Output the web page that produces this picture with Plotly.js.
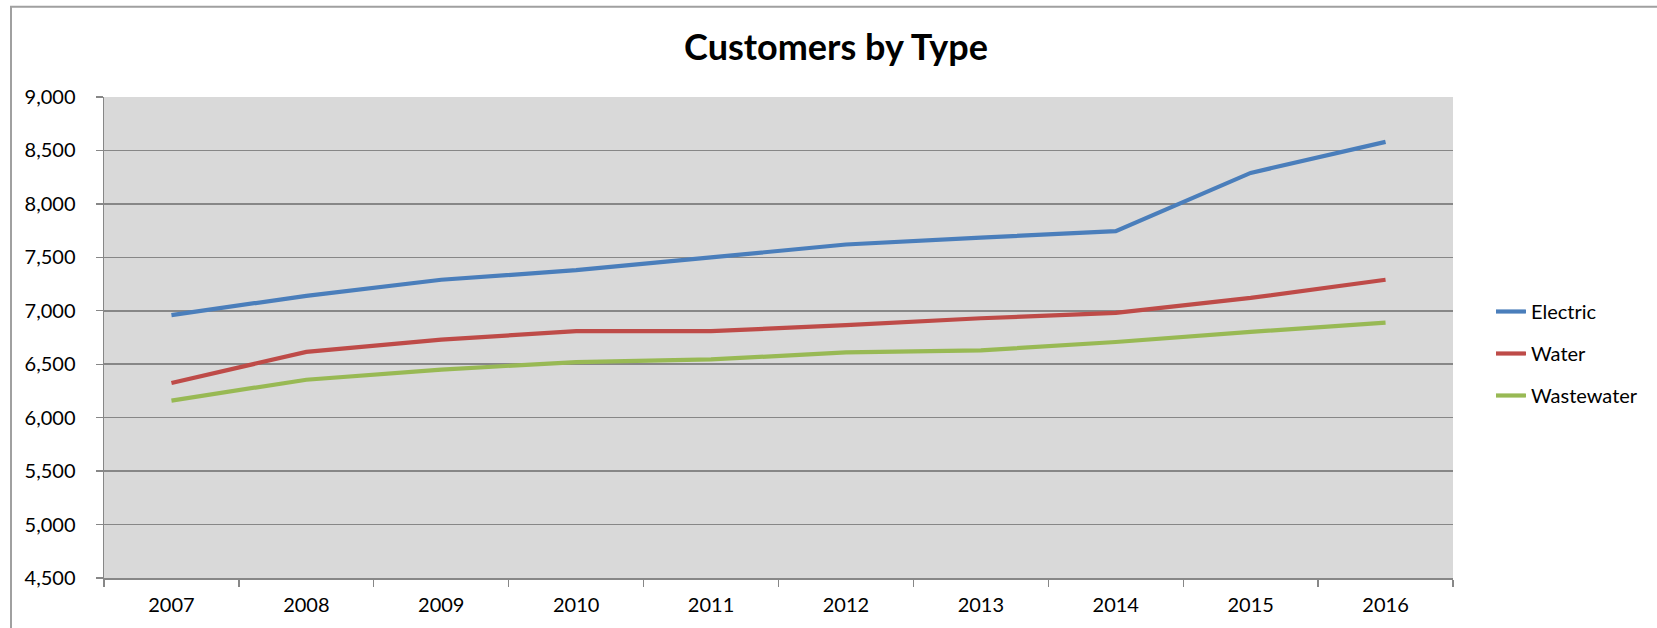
<!DOCTYPE html>
<html>
<head>
<meta charset="utf-8">
<script src="https://cdn.plot.ly/plotly-3.0.1.min.js"></script>
<style>
html,body{margin:0;padding:0;background:#fff;}
#chart{width:1657px;height:628px;}
</style>
</head>
<body>
<div id="chart"></div>
<script>
const years = ["2007","2008","2009","2010","2011","2012","2013","2014","2015","2016"];
const electric = [6960, 7140, 7290, 7380, 7500, 7620, 7685, 7745, 8290, 8580];
const water = [6325, 6615, 6730, 6810, 6810, 6865, 6930, 6980, 7120, 7290];
const wastewater = [6160, 6355, 6450, 6520, 6545, 6610, 6630, 6708, 6802, 6890];
const seriesNames = ["Electric", "Water", "Wastewater"];
const seriesColors = ["#4A7EBB", "#BE4B48", "#98B954"];
const yTicks = [4500, 5000, 5500, 6000, 6500, 7000, 7500, 8000, 8500, 9000];

const W = 1657, H = 628;
const mL = 104, mR = 204, mT = 97, mB = 50;
const pw = W - mL - mR, ph = H - mT - mB;
const px = v => (v - mL) / pw;
const py = v => (H - mB - v) / ph;

const FONT = "Lato, 'Open Sans', sans-serif";
const seriesValues = [electric, water, wastewater];
const traces = seriesValues.map((vals, i) => ({
  type: "scatter",
  mode: "lines",
  x: years,
  y: vals,
  name: seriesNames[i],
  legendgroup: "g" + i,
  line: {color: seriesColors[i], width: 4.2, shape: "linear"},
  hoverinfo: "x+y+name"
}));

const layout = {
  width: W, height: H,
  margin: {l: mL, r: mR, t: mT, b: mB, pad: 0},
  paper_bgcolor: "#ffffff",
  plot_bgcolor: "#D9D9D9",
  font: {family: FONT, size: 20, color: "#000000"},
  title: {
    text: "<b>Customers by Type</b>",
    font: {family: FONT, size: 36, color: "#000000"},
    x: 836 / W, xanchor: "center", xref: "container",
    y: 1 - 47 / H, yanchor: "middle", yref: "container"
  },
  showlegend: true,
  legend: {
    x: px(1491), xanchor: "left",
    y: py(292), yanchor: "top",
    traceorder: "grouped",
    tracegroupgap: 13,
    font: {family: FONT, size: 20, color: "#000000"},
    bgcolor: "rgba(0,0,0,0)",
    borderwidth: 0
  },
  xaxis: {
    type: "category",
    categoryorder: "array",
    categoryarray: years,
    range: [-0.5, years.length - 0.5],
    tickson: "boundaries",
    ticks: "outside",
    ticklen: 7,
    tickwidth: 1.3,
    tickcolor: "#878787",
    showline: true,
    linecolor: "#878787",
    linewidth: 1.5,
    showgrid: false,
    zeroline: false,
    tickfont: {family: FONT, size: 20, color: "#000000"},
    ticklabelstandoff: 8,
    fixedrange: true
  },
  yaxis: {
    range: [4500, 9000],
    tickmode: "array",
    tickvals: yTicks,
    ticktext: yTicks.map(v => v.toLocaleString("en-US")),
    ticks: "outside",
    ticklen: 7,
    tickwidth: 1.3,
    tickcolor: "#878787",
    showline: true,
    linecolor: "#878787",
    linewidth: 1.5,
    showgrid: true,
    gridcolor: "#878787",
    gridwidth: 1.5,
    zeroline: false,
    tickfont: {family: FONT, size: 20, color: "#000000"},
    ticklabelstandoff: 16,
    fixedrange: true
  },
  shapes: [{
    type: "path",
    xref: "paper", yref: "paper",
    path: `M ${px(11)} ${py(660)} L ${px(11)} ${py(6.7)} L ${px(1700)} ${py(6.7)}`,
    line: {color: "#A0A0A0", width: 2},
    layer: "above"
  }]
};

Plotly.newPlot("chart", traces, layout, {displayModeBar: false, staticPlot: true});
</script>
</body>
</html>
